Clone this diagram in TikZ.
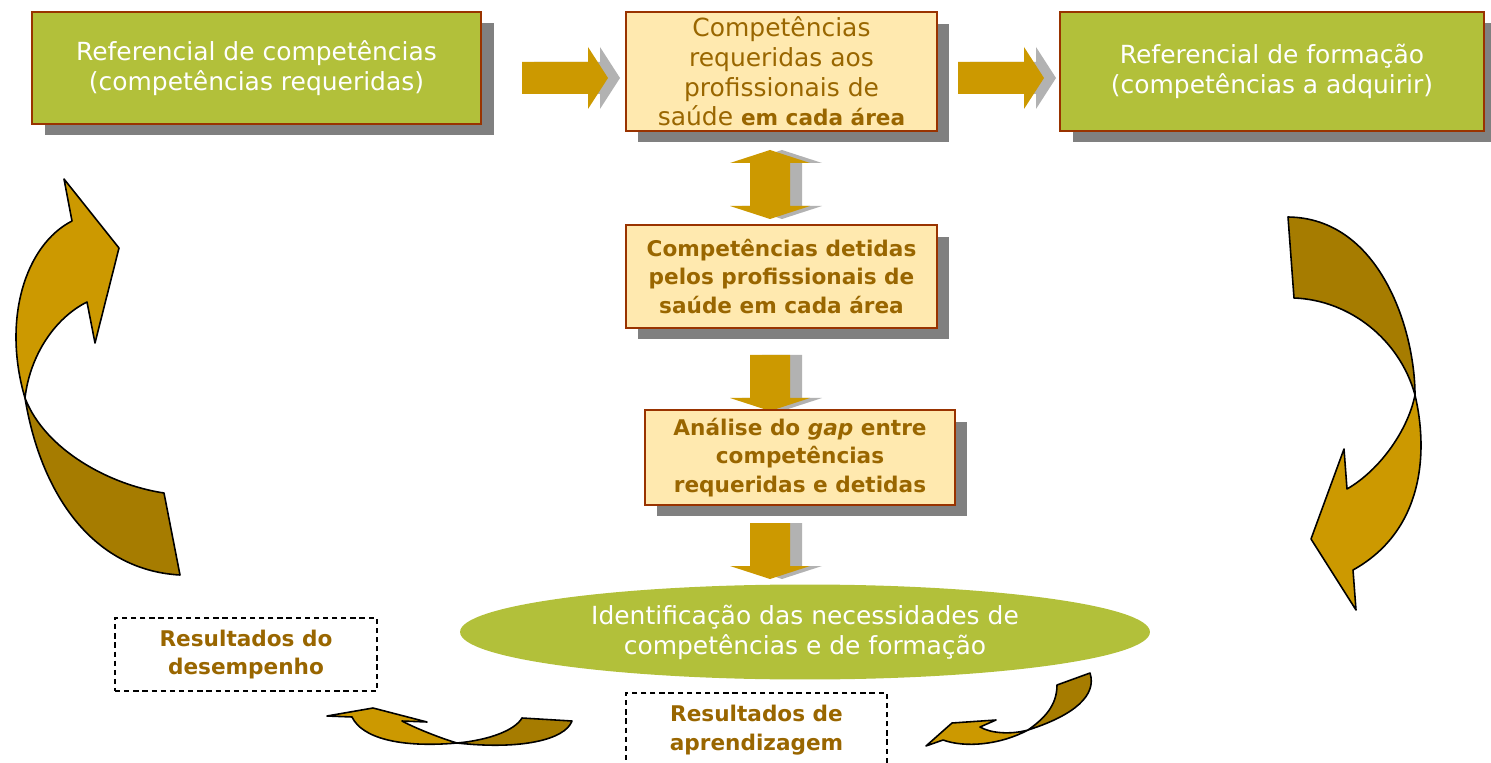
\documentclass[tikz,border=0pt]{standalone}
\usepackage{fontspec}
\setmainfont{DejaVu Sans}
\usetikzlibrary{shapes.geometric,shadows}
\definecolor{leafgreen}{RGB}{178,192,58}
\definecolor{rust}{RGB}{153,51,0}
\definecolor{cream}{RGB}{255,233,175}
\definecolor{textbrown}{RGB}{153,102,0}
\definecolor{shadowgray}{RGB}{128,128,128}
\definecolor{arrowgold}{RGB}{204,153,0}
\definecolor{arrowbrown}{RGB}{166,124,0}
\definecolor{arrowgray}{RGB}{178,178,178}
\newcommand\regfont{\fontsize{14.2}{17.1}\selectfont}
\newcommand\boldfont{\fontsize{12.3}{16.4}\selectfont\bfseries}
\tikzset{
  boxbase/.style={rectangle, align=center, inner sep=0pt},
  greenbox/.style={boxbase, fill=leafgreen, draw=rust, line width=1.1pt, text=white, font=\regfont,
    drop shadow={shadow xshift=0.26cm, shadow yshift=-0.22cm, fill=shadowgray, opacity=1}},
  creambox/.style={boxbase, fill=cream, draw=rust, line width=1.1pt, text=textbrown, font=\boldfont,
    drop shadow={shadow xshift=0.24cm, shadow yshift=-0.23cm, fill=shadowgray, opacity=1}},
  dashbox/.style={boxbase, draw=black, dashed, dash pattern=on 3pt off 2.2pt, line width=0.8pt,
    text=textbrown, font=\boldfont},
  curlgold/.style={fill=arrowgold, draw=black, line width=0.9pt, line join=round},
  curlbrown/.style={fill=arrowbrown, draw=black, line width=0.9pt, line join=round},
  sidearrow/.pic={\fill[pic actions] (0,-16) -- (66,-16) -- (66,-31) -- (86,0) -- (66,31) -- (66,16) -- (0,16) -- cycle;},
  downarrow/.pic={\fill[pic actions] (-20,0) -- (20,0) -- (20,43) -- (40,43) -- (0,56) -- (-40,43) -- (-20,43) -- cycle;},
  twinarrow/.pic={\fill[pic actions] (0,0) -- (40,13) -- (20,13) -- (20,56) -- (40,56) -- (0,69) -- (-40,56) -- (-20,56) -- (-20,13) -- (-40,13) -- cycle;}
}
\begin{document}
\begin{tikzpicture}[x=0.02cm,y=-0.02cm]
\useasboundingbox (0,0) rectangle (1491,763);

\pic[fill=arrowgray] at (534,78) {sidearrow};
\pic[fill=arrowgold] at (522,78) {sidearrow};
\pic[fill=arrowgray] at (970,78) {sidearrow};
\pic[fill=arrowgold] at (958,78) {sidearrow};
\pic[fill=arrowgray] at (782,150) {twinarrow};
\pic[fill=arrowgold] at (770,150) {twinarrow};
\pic[fill=arrowgray] at (782,355) {downarrow};
\pic[fill=arrowgold] at (770,355) {downarrow};
\pic[fill=arrowgray] at (782,523) {downarrow};
\pic[fill=arrowgold] at (770,523) {downarrow};

\node[greenbox, minimum width=8.98cm, minimum height=2.24cm] (ref) at (256.5,68)
  {Referencial de competências\\(competências requeridas)};
\node[greenbox, minimum width=8.48cm, minimum height=2.38cm] (form) at (1272,71.5)
  {Referencial de formação\\(competências a adquirir)};
\node[creambox, minimum width=6.22cm, minimum height=2.38cm, font=\fontsize{14.2}{16.9}\selectfont] (req) at (781.5,71.5)
  {Competências\\requeridas aos\\profissionais de\\saúde {\boldfont em cada área}};
\node[creambox, minimum width=6.22cm, minimum height=2.06cm] (held) at (781.5,276.5)
  {Competências detidas\\pelos profissionais de\\saúde em cada área};
\node[creambox, minimum width=6.2cm, minimum height=1.9cm] (gap) at (800,457.5)
  {Análise do \textit{gap} entre\\competências\\requeridas e detidas};
\node[ellipse, fill=leafgreen, minimum width=13.8cm, minimum height=1.9cm, inner sep=0pt,
  align=center, text=white, font=\fontsize{14.2}{17.1}\selectfont] (need) at (805,632)
  {Identificação das necessidades de\\competências e de formação};
\node[dashbox, minimum width=5.24cm, minimum height=1.46cm] (perf) at (246,654.5)
  {Resultados do\\desempenho};
\node[dashbox, minimum width=5.22cm, minimum height=1.48cm] (learn) at (756.5,730)
  {Resultados de\\aprendizagem};

\draw[curlbrown] (25,398) .. controls (40,490) and (90,570) .. (180,575) -- (164,493)
  .. controls (110,485) and (45,450) .. (25,398) -- cycle;
\draw[curlgold] (64,179) -- (119,248) -- (95,343) -- (87,302)
  .. controls (55,318) and (30,355) .. (25,398)
  .. controls (2,320) and (25,245) .. (72,221) -- cycle;

\draw[curlbrown] (1288,217) .. controls (1380,218) and (1415,330) .. (1415,395)
  .. controls (1400,340) and (1350,300) .. (1294,298) -- cycle;
\draw[curlgold] (1415,395) .. controls (1428,450) and (1425,530) .. (1353,570) -- (1356,610)
  -- (1311,539) -- (1344,449) -- (1347,489) .. controls (1380,470) and (1408,430) .. (1415,395) -- cycle;

\draw[curlgold] (327,716) -- (373,708) -- (427,722) -- (402,721)
  .. controls (415,728) and (440,738) .. (457,743)
  .. controls (400,748) and (362,738) .. (352,717) -- cycle;
\draw[curlbrown] (457,743) .. controls (490,740) and (515,730) .. (522,718) -- (572,721)
  .. controls (565,740) and (520,750) .. (457,743) -- cycle;

\draw[curlbrown] (1028,730) .. controls (1045,718) and (1057,705) .. (1057,685) -- (1090,673)
  .. controls (1097,695) and (1075,715) .. (1028,730) -- cycle;
\draw[curlgold] (1028,730) .. controls (1010,735) and (990,733) .. (980,727) -- (996,720)
  -- (952,723) -- (926,746) -- (943,740) .. controls (965,748) and (1000,745) .. (1028,730) -- cycle;
\end{tikzpicture}
\end{document}
